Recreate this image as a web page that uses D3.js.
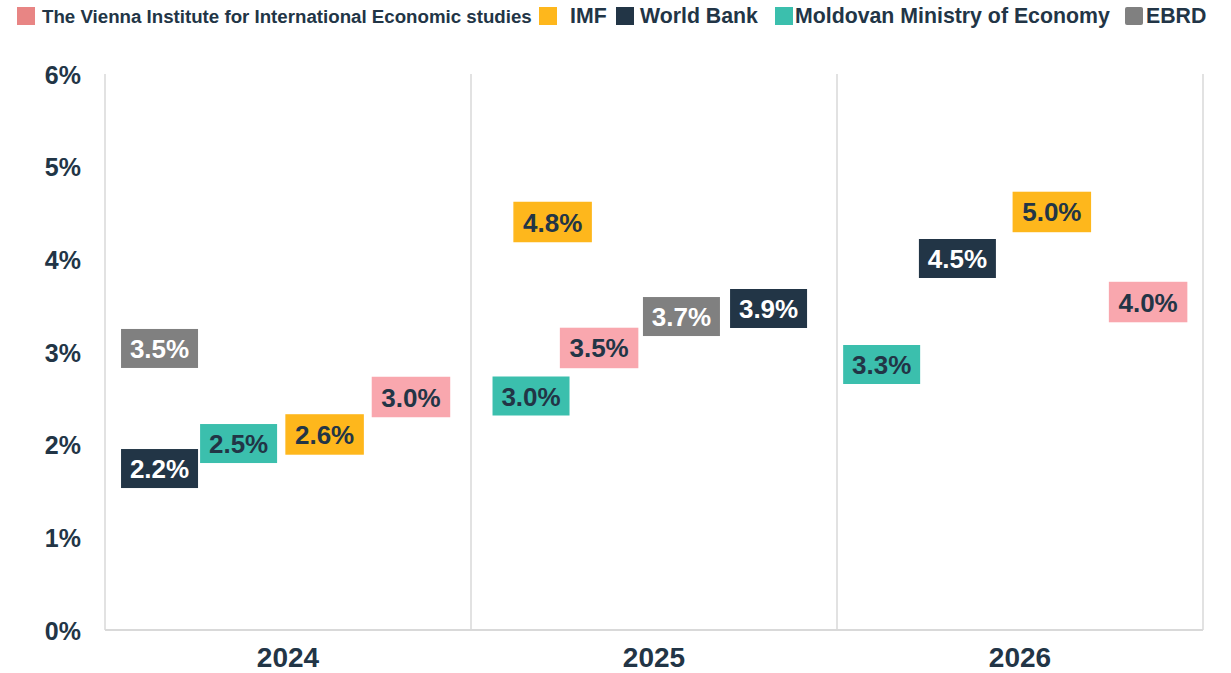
<!DOCTYPE html>
<html>
<head>
<meta charset="utf-8">
<script src="https://cdn.jsdelivr.net/npm/d3@7"></script>
<style>
  html, body { margin: 0; padding: 0; background: #ffffff; }
  svg { display: block; }
  text { font-family: "Liberation Sans", Arial, sans-serif; font-weight: bold; }
</style>
</head>
<body>
<svg id="chart" width="1231" height="673"></svg>
<script>
// ---- data ----
const years = ["2024", "2025", "2026"];
const seriesNames = ["The Vienna Institute for International Economic studies", "IMF", "World Bank", "Moldovan Ministry of Economy", "EBRD"];
const viennaValues  = [3.0, 3.5, 4.0];
const imfValues     = [2.6, 4.8, 5.0];
const worldBankValues = [2.2, 3.9, 4.5];
const moldovaValues = [2.5, 3.0, 3.3];
const ebrdValues    = [3.5, 3.7, null];
const yTicks = [0, 1, 2, 3, 4, 5, 6];

// ---- layout / style (not data) ----
const seriesValues = [viennaValues, imfValues, worldBankValues, moldovaValues, ebrdValues];
const boxColors  = ["#F9A7AE", "#FEB71C", "#223546", "#3BBFAD", "#808080"];
const swatchColors = ["#E88584", "#FEB71C", "#223546", "#3BBFAD", "#808080"];
const textColors = ["#223546", "#223546", "#ffffff", "#223546", "#ffffff"];
// label placement within each year band: fraction across band, vertical pixel nudge below the value
const labelDX = [
  [0.836, 0.350, 0.850],
  [0.600, 0.223, 0.587],
  [0.149, 0.813, 0.329],
  [0.365, 0.164, 0.122],
  [0.149, 0.575, null]
];
const labelDY = [
  [45, 42.3, 42.7],
  [45.4, 36.8, 45.3],
  [42.4, 39.9, 45.5],
  [45.2, 44, 40.3],
  [42.8, 29.4, null]
];
const legendSwatchX = [17, 539, 616, 775, 1125];
const legendTextX   = [42, 570, 640, 795, 1146];
const legendFont    = [18.7, 21.3, 21.3, 21.3, 21.3];

const svg = d3.select("#chart");
const margin = { left: 105, right: 28, top: 74, bottom: 43 };
const W = 1231, H = 673;

const x = d3.scaleBand().domain(years).range([margin.left, W - margin.right]).paddingInner(0).paddingOuter(0);
const y = d3.scaleLinear().domain([0, 6]).range([H - margin.bottom, margin.top]);

// vertical separators
const bounds = years.map(yr => x(yr)).concat([x(years[years.length - 1]) + x.bandwidth()]);
svg.append("g").selectAll("line").data(bounds).join("line")
  .attr("x1", d => d).attr("x2", d => d)
  .attr("y1", y(6)).attr("y2", y(0))
  .attr("stroke", "#D9D9D9").attr("stroke-width", 1.5);

// bottom axis line
svg.append("line")
  .attr("x1", margin.left).attr("x2", W - margin.right)
  .attr("y1", y(0)).attr("y2", y(0))
  .attr("stroke", "#D9D9D9").attr("stroke-width", 2);

// y axis tick labels
const yAxis = d3.axisLeft(y).tickValues(yTicks).tickFormat(d => d + "%").tickSize(0).tickPadding(0);
const gy = svg.append("g").attr("transform", "translate(81,0)").call(yAxis);
gy.select(".domain").remove();
gy.selectAll("text")
  .attr("font-size", 25).attr("fill", "#223546")
  .attr("font-family", "'Liberation Sans', Arial, sans-serif").attr("font-weight", "bold")
  .attr("dy", "0.36em");

// x axis labels
const xAxis = d3.axisBottom(x).tickSize(0).tickPadding(0);
const gx = svg.append("g").attr("transform", `translate(0,${y(0)})`).call(xAxis);
gx.select(".domain").remove();
gx.selectAll("text")
  .attr("font-size", 28).attr("fill", "#223546")
  .attr("font-family", "'Liberation Sans', Arial, sans-serif").attr("font-weight", "bold")
  .attr("y", 37).attr("dy", 0);

// labels
const points = [];
seriesValues.forEach((vals, si) => {
  vals.forEach((v, yi) => {
    if (v == null) return;
    points.push({ s: si, year: years[yi], v: v, dx: labelDX[si][yi], dy: labelDY[si][yi] });
  });
});

const bw = 77, bh = 39;
const g = svg.append("g").selectAll("g").data(points).join("g")
  .attr("transform", d => `translate(${x(d.year) + d.dx * x.bandwidth()},${y(d.v) + d.dy})`);
g.append("rect")
  .attr("x", -bw / 2).attr("y", -bh / 2).attr("width", bw).attr("height", bh)
  .attr("fill", d => boxColors[d.s])
  .attr("stroke", d => (d.s <= 1 ? boxColors[d.s] : "none"))
  .attr("stroke-width", 1.5);
g.append("text")
  .attr("text-anchor", "middle")
  .attr("y", 9.5)
  .attr("font-size", 26)
  .attr("fill", d => textColors[d.s])
  .text(d => d.v.toFixed(1) + "%");

// legend
const lg = svg.append("g").selectAll("g").data(seriesNames).join("g");
lg.append("rect")
  .attr("x", (d, i) => legendSwatchX[i]).attr("y", 7)
  .attr("width", 18).attr("height", 18)
  .attr("rx", (d, i) => i === 4 ? 2 : 0)
  .attr("fill", (d, i) => swatchColors[i]);
lg.append("text")
  .attr("x", (d, i) => legendTextX[i]).attr("y", 23)
  .attr("font-size", (d, i) => legendFont[i]).attr("fill", "#223546")
  .text(d => d);
</script>
</body>
</html>
